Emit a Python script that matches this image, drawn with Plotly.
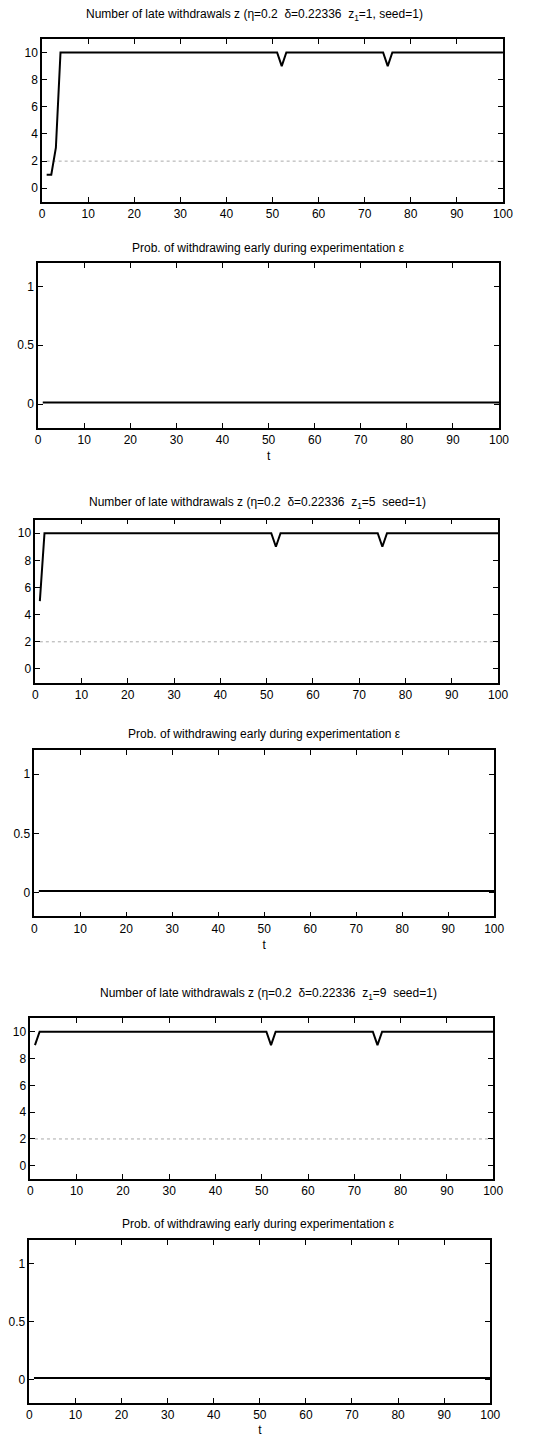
import plotly.graph_objects as go

W, H = 552, 1437

# ---- data ----
# late withdrawals z: breakpoints (t, z)
z1_t = [1, 2, 3, 4, 51, 52, 53, 74, 75, 76, 100]
z1_v = [1, 1, 3, 10, 10, 9, 10, 10, 9, 10, 10]
z5_t = [1, 2, 51, 52, 53, 74, 75, 76, 100]
z5_v = [5, 10, 10, 9, 10, 10, 9, 10, 10]
z9_t = [1, 2, 51, 52, 53, 74, 75, 76, 100]
z9_v = [9, 10, 10, 9, 10, 10, 9, 10, 10]
ref_t = [1, 100]
ref_v = [2, 2]
# prob of withdrawing early eps
p_t = [1, 100]
p1_v = [0.015, 0.015]
p5_v = [0.015, 0.015]
p9_v = [0.015, 0.015]

z_titles = [
    "Number of late withdrawals z (η=0.2  δ=0.22336  z<sub>1</sub>=1, seed=1)",
    "Number of late withdrawals z (η=0.2  δ=0.22336  z<sub>1</sub>=5  seed=1)",
    "Number of late withdrawals z (η=0.2  δ=0.22336  z<sub>1</sub>=9  seed=1)",
]
p_title = "Prob. of withdrawing early during experimentation ε"
x_ticks = [0, 10, 20, 30, 40, 50, 60, 70, 80, 90, 100]
z_ticks = [0, 2, 4, 6, 8, 10]
p_ticks = [0, 0.5, 1]
p_ticklabels = ["0", "0.5", "1"]

# ---- layout geometry (pixels) ----
boxes = [  # x0, x1, ytop, ybottom
    (40, 512, 39, 202),
    (36, 508, 263, 428),
    (33, 507, 520, 683),
    (32, 503, 751, 917),
    (28, 502, 1019, 1180),
    (27, 499, 1241, 1404),
]
title_pos = [(258, 15), (272, 248), (261, 503), (268, 735), (272, 995), (262, 1225)]

FONT = "Liberation Sans, Arial, sans-serif"
fig = go.Figure()

series = [
    (z1_t, z1_v), (p_t, p1_v),
    (z5_t, z5_v), (p_t, p5_v),
    (z9_t, z9_v), (p_t, p9_v),
]

layout = dict(
    width=W, height=H, margin=dict(l=0, r=0, t=0, b=0),
    paper_bgcolor="white", plot_bgcolor="white", showlegend=False,
    font=dict(family=FONT, size=12, color="black"),
)
annotations = []
for i, ((x0, x1, yt, yb), (tx, ty)) in enumerate(zip(boxes, title_pos)):
    n = i + 1
    xa = "x" if n == 1 else f"x{n}"
    ya = "y" if n == 1 else f"y{n}"
    is_z = (i % 2 == 0)
    t, v = series[i]
    if is_z:
        fig.add_trace(go.Scatter(x=ref_t, y=ref_v, mode="lines", xaxis=xa, yaxis=ya,
                                 line=dict(color="#aaaaaa", width=1, dash="dot")))
    fig.add_trace(go.Scatter(x=t, y=v, mode="lines", xaxis=xa, yaxis=ya,
                             line=dict(color="black", width=2)))
    common = dict(showgrid=False, zeroline=False, showline=True, linecolor="black",
                  linewidth=1.5, mirror="ticks", ticks="inside", ticklen=5,
                  tickcolor="black", tickfont=dict(family=FONT, size=12, color="black"))
    layout["xaxis" if n == 1 else f"xaxis{n}"] = dict(
        domain=[x0 / W, x1 / W], range=[0, 100], tickvals=x_ticks,
        anchor=ya, **common)
    if is_z:
        yax = dict(range=[-1, 11], tickvals=z_ticks)
    else:
        yax = dict(range=[-0.2, 1.2], tickvals=p_ticks, ticktext=p_ticklabels)
        layout["xaxis" if n == 1 else f"xaxis{n}"]["title"] = dict(
            text="t", font=dict(family=FONT, size=12), standoff=6)
    layout["yaxis" if n == 1 else f"yaxis{n}"] = dict(
        domain=[1 - yb / H, 1 - yt / H], anchor=xa, **yax, **common)
    annotations.append(dict(
        text=z_titles[i // 2] if is_z else p_title,
        x=tx / W, y=1 - ty / H, xref="paper", yref="paper",
        xanchor="center", yanchor="middle", showarrow=False,
        font=dict(family=FONT, size=12, color="black")))
layout["annotations"] = annotations
fig.update_layout(**layout)
fig.write_html("out.html")
